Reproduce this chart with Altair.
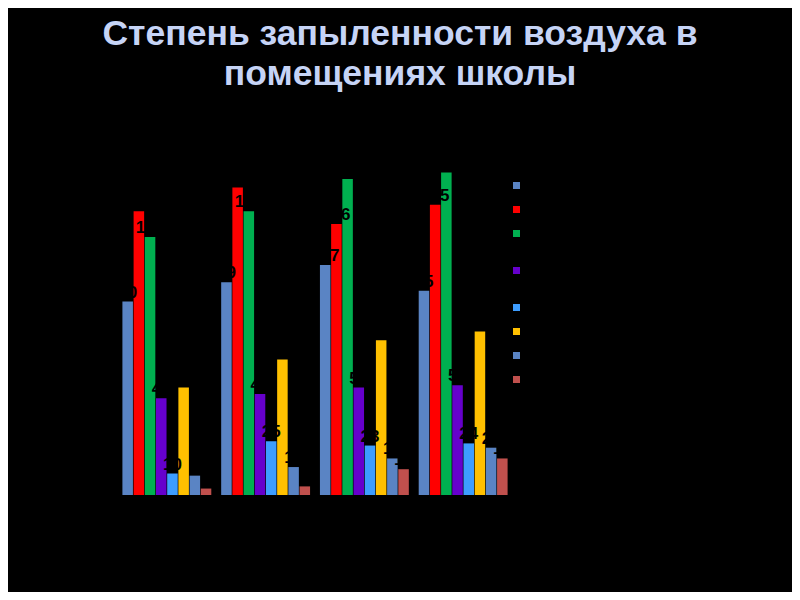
import altair as alt
import pandas as pd

groups = ["Сентябрь", "Октябрь", "Ноябрь", "Декабрь"]
series = ["Кабинет физики", "Кабинет химии", "Кабинет|биологии", "Кабинет|информатики",
          "Столовая", "Библиотека", "Коридор", "Мастерская"]
colors = ["#5a84c4", "#ff0000", "#00b050", "#6600cc", "#3d9dff", "#ffc000", "#5a84c4", "#c0504d"]

g1_values = [90, 132, 120, 45, 10, 50, 9, 3]
g2_values = [99, 143, 132, 47, 25, 63, 13, 4]
g3_values = [107, 126, 147, 50, 23, 72, 17, 12]
g4_values = [95, 135, 150, 51, 24, 76, 22, 17]

rows = []
for g, vals in zip(groups, [g1_values, g2_values, g3_values, g4_values]):
    for s, v in zip(series, vals):
        rows.append({"group": g, "series": s, "value": v})
df = pd.DataFrame(rows)

base = alt.Chart(df).encode(
    x=alt.X("group:N", sort=groups,
            scale=alt.Scale(paddingInner=0.1, paddingOuter=0.075),
            axis=alt.Axis(title=None, labelColor="black", domainColor="black",
                          tickColor="black", labelFontSize=12, labelAngle=0)),
    xOffset=alt.XOffset("series:N", sort=series, scale=alt.Scale(paddingInner=0.06)),
    y=alt.Y("value:Q", scale=alt.Scale(domain=[0, 160]),
            axis=alt.Axis(title=None, grid=False, labelColor="black",
                          domainColor="black", tickColor="black", tickCount=8)),
)

bars = base.mark_bar().encode(
    color=alt.Color("series:N", sort=series, title=None,
                    scale=alt.Scale(domain=series, range=colors),
                    legend=alt.Legend(orient="none", legendX=396, legendY=29,
                                      symbolType="square", symbolSize=49,
                                      symbolStrokeWidth=0, labelFontSize=11,
                                      labelColor="black", rowPadding=12,
                                      labelExpr="split(datum.label, '|')",
                                      padding=0, symbolOpacity=1))
)

labels = base.mark_text(baseline="bottom", fontSize=17, fontWeight="bold",
                        color="black", font="Liberation Sans").encode(text="value:Q")

chart = alt.layer(bars, labels).properties(
    width=400,
    height=344,
    autosize="none",
    padding={"left": 107, "top": 143, "right": 277, "bottom": 97},
    background="black",
    title=alt.TitleParams(
        text=["Степень запыленности воздуха в", "помещениях школы"],
        font="Liberation Sans", fontSize=35.5, fontWeight="bold",
        color="#c6d4f6", anchor="middle", dx=85, offset=54, lineHeight=40,
    ),
).configure_view(strokeOpacity=0)

chart.save("out.html", embed_options={"renderer": "svg", "actions": False})
